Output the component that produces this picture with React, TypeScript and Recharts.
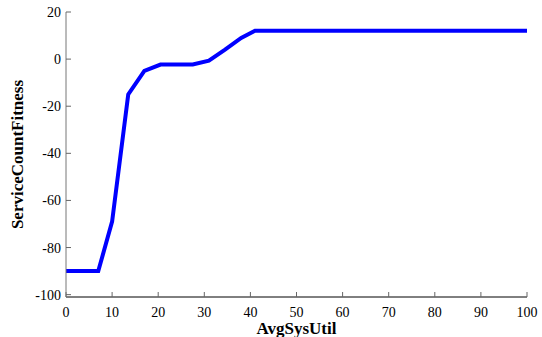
import React from 'react';
import { LineChart, Line, XAxis, YAxis } from 'recharts';

const utilValues = [0, 7, 10, 13.5, 17, 20.5, 27.5, 31, 34.5, 38, 41, 100];
const fitnessValues = [-90, -90, -69, -15, -5, -2.3, -2.3, -0.7, 4, 9, 12, 12];
const xTicks = [0, 10, 20, 30, 40, 50, 60, 70, 80, 90, 100];
const yTicks = [-100, -80, -60, -40, -20, 0, 20];

const data = utilValues.map((x, i) => ({ x, y: fitnessValues[i] }));

const FONT = '"Liberation Serif", "Times New Roman", serif';

const XTick = (props: any) => {
  const { x, y, payload } = props;
  return (
    <text x={x} y={y} dy="0.71em" textAnchor="middle" fill="#000" fontSize={14} fontFamily={FONT}>
      {payload.value}
    </text>
  );
};

const YTick = (props: any) => {
  const { x, y, payload } = props;
  return (
    <text x={x} y={y} dy="0.355em" textAnchor="end" fill="#000" fontSize={14} fontFamily={FONT}>
      {payload.value}
    </text>
  );
};

export default function App() {
  return (
    <div style={{ position: 'absolute', left: 0, top: 0, width: 542, height: 337, background: '#fff', fontFamily: FONT }}>
      <LineChart width={542} height={337} data={data} margin={{ top: 12, right: 15, bottom: 0, left: 0 }}>
        <XAxis
          dataKey="x"
          type="number"
          domain={[0, 100]}
          ticks={xTicks}
          height={40}
          stroke="#000"
          tickSize={-5}
          tickMargin={15}
          tick={<XTick />}
          tickLine={{ stroke: '#666' }}
          label={{
            value: 'AvgSysUtil',
            position: 'insideBottom',
            offset: 3,
            style: { fill: '#000', fontSize: 17, fontWeight: 'bold', fontFamily: FONT },
          }}
        />
        <YAxis
          type="number"
          domain={[-101, 20]}
          ticks={yTicks}
          width={66}
          stroke="#777"
          tickSize={-5}
          tickMargin={10}
          tick={<YTick />}
          tickLine={{ stroke: '#666' }}
          label={{
            value: 'ServiceCountFitness',
            angle: -90,
            position: 'insideLeft',
            offset: 17,
            style: { fill: '#000', fontSize: 17, fontWeight: 'bold', fontFamily: FONT, textAnchor: 'middle' },
          }}
        />
        <Line
          type="linear"
          dataKey="y"
          stroke="#0000ff"
          strokeWidth={4}
          dot={false}
          isAnimationActive={false}
        />
      </LineChart>
    </div>
  );
}
